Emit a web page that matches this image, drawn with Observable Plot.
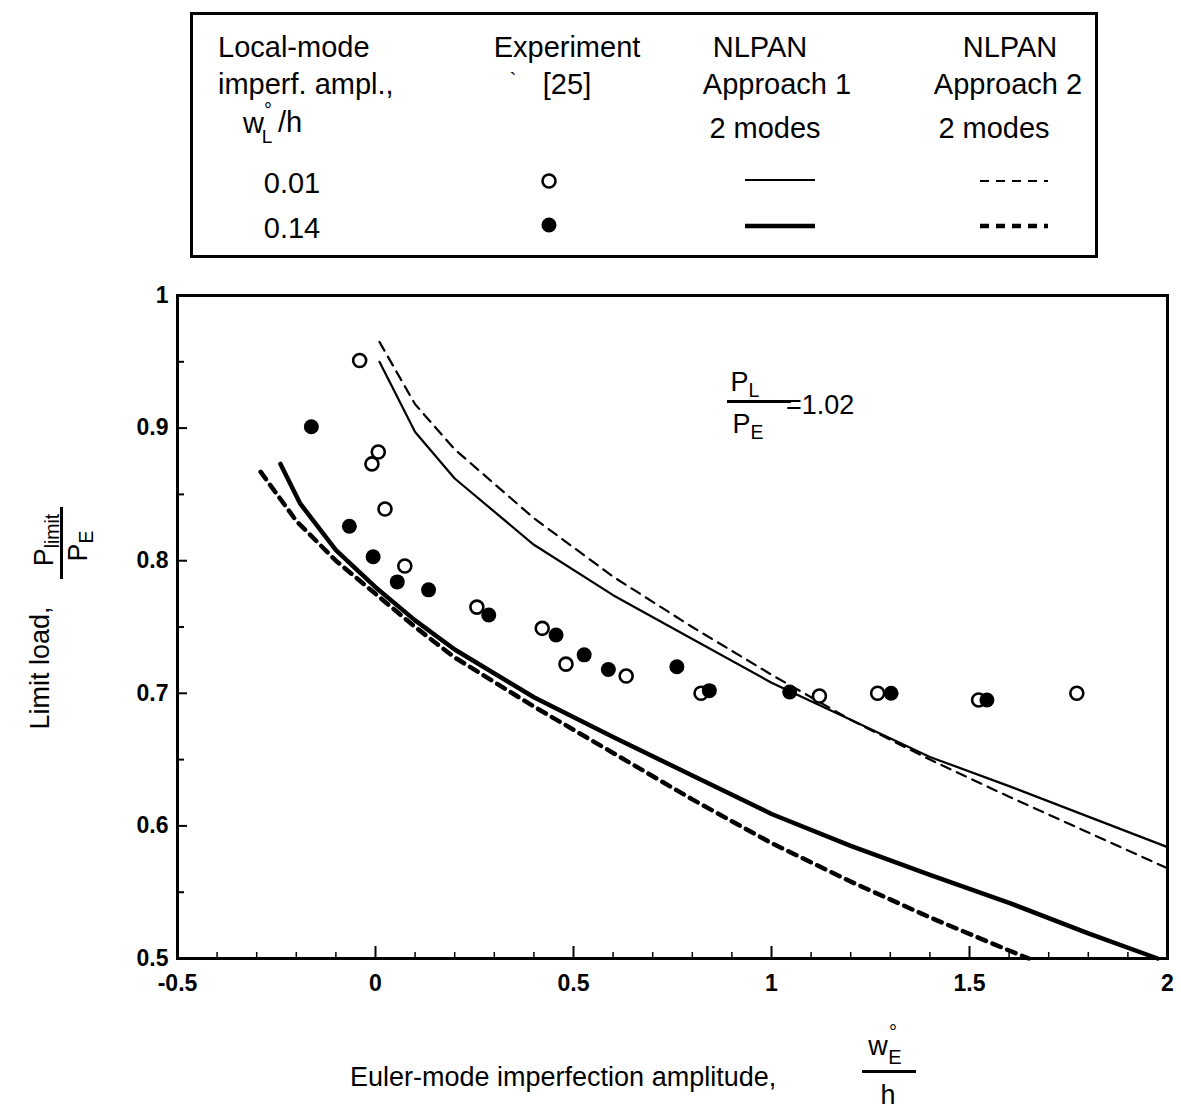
<!DOCTYPE html>
<html><head><meta charset="utf-8">
<script src="https://cdn.jsdelivr.net/npm/d3@7"></script>
<script src="https://cdn.jsdelivr.net/npm/@observablehq/plot@0.6"></script>
<style>
body{margin:0;background:#fff;font-family:"Liberation Sans",Arial,Helvetica,sans-serif;color:#000}
#wrap{position:relative;width:1181px;height:1112px;overflow:hidden;background:#fff}
#legend{position:absolute;left:0;top:0;width:1181px;height:260px}
#chart{position:absolute;left:0;top:260px}
.t{position:absolute;white-space:nowrap;line-height:1;font-size:29px}
.c{transform:translate(-50%,-50%)}
.l{transform:translate(0,-50%)}
.r90{transform:translate(-50%,-50%) rotate(-90deg)}
.sub{font-size:0.72em;position:relative;top:0.3em}
.bar{position:absolute;background:#000}
#box{position:absolute;left:190px;top:12px;width:908px;height:246px;border:3px solid #000;box-sizing:border-box}
</style></head><body>
<div id="wrap">
  <div id="legend">
    <div id="box"></div>
    <svg width="1181" height="260" style="position:absolute;left:0;top:0">
      <circle cx="549" cy="181" r="6.5" fill="#fff" stroke="#000" stroke-width="2.6"/>
      <circle cx="549" cy="225" r="7.5" fill="#000"/>
      <line x1="745" x2="815" y1="180" y2="180" stroke="#000" stroke-width="2.2"/>
      <line x1="745" x2="815" y1="226" y2="226" stroke="#000" stroke-width="4.5"/>
      <line x1="980" x2="1048" y1="181" y2="181" stroke="#000" stroke-width="2.2" stroke-dasharray="9,7"/>
      <line x1="980" x2="1048" y1="226" y2="226" stroke="#000" stroke-width="4.5" stroke-dasharray="9,7"/>
    </svg>
    <div class="t l" style="left:218px;top:47px">Local-mode</div>
    <div class="t l" style="left:218px;top:84px">imperf. ampl.,</div>
    <div class="t l" style="left:243px;top:123px">w</div>
    <div class="t c" style="left:268px;top:110px;font-size:20px;line-height:0.6">°</div>
    <div class="t c" style="left:267px;top:137px;font-size:19px;line-height:0.8">L</div>
    <div class="t l" style="left:278px;top:122px">/h</div>
    <div class="t c" style="left:292px;top:183px">0.01</div>
    <div class="t c" style="left:292px;top:228px">0.14</div>
    <div class="t c" style="left:567px;top:47px">Experiment</div>
    <div class="t c" style="left:513px;top:80px;font-size:20px">`</div>
    <div class="t c" style="left:567px;top:84px">[25]</div>
    <div class="t c" style="left:760px;top:47px">NLPAN</div>
    <div class="t c" style="left:777px;top:84px">Approach 1</div>
    <div class="t c" style="left:765px;top:128px">2 modes</div>
    <div class="t c" style="left:1010px;top:47px">NLPAN</div>
    <div class="t c" style="left:1008px;top:84px">Approach 2</div>
    <div class="t c" style="left:994px;top:128px">2 modes</div>
  </div>
  <div id="chart"></div>
  <!-- y axis label -->
  <div class="t r90" style="left:40px;top:668px;font-size:27px">Limit load,</div>
  <div class="t r90" style="left:44px;top:540px;font-size:27px">P<span class="sub">limit</span></div>
  <div class="bar" style="left:60px;top:507px;width:3px;height:72px"></div>
  <div class="t r90" style="left:78px;top:546px;font-size:27px">P<span class="sub">E</span></div>
  <!-- x axis label -->
  <div class="t l" style="left:350px;top:1077px;font-size:27px">Euler-mode imperfection amplitude,</div>
  <div class="t c" style="left:878px;top:1046px;font-size:27px">w</div>
  <div class="t c" style="left:893px;top:1032px;font-size:20px;line-height:0.6">°</div>
  <div class="t c" style="left:895px;top:1057px;font-size:20px;line-height:0.8">E</div>
  <div class="bar" style="left:862px;top:1070px;width:54px;height:3px"></div>
  <div class="t c" style="left:888px;top:1095px;font-size:27px">h</div>
  <!-- annotation -->
  <div class="t c" style="left:745px;top:382px;font-size:27px">P<span class="sub">L</span></div>
  <div class="bar" style="left:727px;top:400px;width:64px;height:3px"></div>
  <div class="t c" style="left:748px;top:424px;font-size:27px">P<span class="sub">E</span></div>
  <div class="t l" style="left:786px;top:405px;font-size:27px">=1.02</div>
</div>
<script>
// Experiment [25], local imperfection w_L/h = 0.01 (open circles)
const exp001X = [-0.040, 0.007, -0.009, 0.024, 0.074, 0.256, 0.421, 0.481, 0.633, 0.822, 1.121, 1.268, 1.523, 1.771];
const exp001Y = [0.951, 0.882, 0.873, 0.839, 0.796, 0.765, 0.749, 0.722, 0.713, 0.700, 0.698, 0.700, 0.695, 0.700];
// Experiment [25], w_L/h = 0.14 (filled circles)
const exp014X = [-0.162, -0.066, -0.006, 0.055, 0.134, 0.286, 0.456, 0.527, 0.588, 0.761, 0.843, 1.046, 1.302, 1.544];
const exp014Y = [0.901, 0.826, 0.803, 0.784, 0.778, 0.759, 0.744, 0.729, 0.718, 0.720, 0.702, 0.701, 0.700, 0.695];
// NLPAN Approach 1, w_L/h = 0.01 (thin solid)
const a1thinX = [0.01, 0.1, 0.2, 0.4, 0.6, 0.8, 1.0, 1.2, 1.4, 1.6, 1.8, 2.0];
const a1thinY = [0.950, 0.897, 0.862, 0.812, 0.774, 0.741, 0.708, 0.680, 0.652, 0.630, 0.607, 0.584];
// NLPAN Approach 2, w_L/h = 0.01 (thin dashed)
const a2thinX = [0.01, 0.1, 0.2, 0.4, 0.6, 0.8, 1.0, 1.2, 1.4, 1.6, 1.8, 2.0];
const a2thinY = [0.965, 0.918, 0.884, 0.832, 0.788, 0.750, 0.714, 0.680, 0.650, 0.622, 0.595, 0.568];
// NLPAN Approach 1, w_L/h = 0.14 (thick solid)
const a1thickX = [-0.24, -0.19, -0.1, 0.0, 0.1, 0.2, 0.4, 0.6, 0.8, 1.0, 1.2, 1.4, 1.6, 1.8, 1.975];
const a1thickY = [0.873, 0.843, 0.808, 0.780, 0.755, 0.733, 0.697, 0.667, 0.638, 0.609, 0.585, 0.563, 0.542, 0.519, 0.500];
// NLPAN Approach 2, w_L/h = 0.14 (thick dashed)
const a2thickX = [-0.29, -0.2, -0.1, 0.0, 0.1, 0.2, 0.4, 0.6, 0.8, 1.0, 1.2, 1.4, 1.6, 1.65];
const a2thickY = [0.867, 0.830, 0.800, 0.775, 0.750, 0.727, 0.690, 0.655, 0.620, 0.587, 0.558, 0.531, 0.506, 0.500];
// axes
const xTicks = [-0.5, 0, 0.5, 1, 1.5, 2];
const yTicks = [0.5, 0.6, 0.7, 0.8, 0.9, 1];
const xMinor = d3.range(-4, 20).map(i => i / 10).filter(v => Math.abs(v * 2 - Math.round(v * 2)) > 1e-9);
const yMinor = [0.55, 0.65, 0.75, 0.85, 0.95];

const pts = (xs, ys) => xs.map((x, i) => ({x, y: ys[i]}));

const W = 1181, H = 852, mL = 177, mR = 14, mT = 35, mB = 154;
const plotW = W - mL - mR, plotH = H - mT - mB;

const chart = Plot.plot({
  width: W, height: H,
  marginLeft: mL, marginRight: mR, marginTop: mT, marginBottom: mB,
  x: {domain: [-0.5, 2]},
  y: {domain: [0.5, 1]},
  style: {fontFamily: "'Liberation Sans', Arial, sans-serif", fontSize: "23px", fontWeight: "bold", background: "white", color: "black", overflow: "visible"},
  marks: [
    Plot.line(pts(a1thinX, a1thinY), {x: "x", y: "y", stroke: "black", strokeWidth: 2.2}),
    Plot.line(pts(a2thinX, a2thinY), {x: "x", y: "y", stroke: "black", strokeWidth: 2.2, strokeDasharray: "10,7"}),
    Plot.line(pts(a1thickX, a1thickY), {x: "x", y: "y", stroke: "black", strokeWidth: 4.5}),
    Plot.line(pts(a2thickX, a2thickY), {x: "x", y: "y", stroke: "black", strokeWidth: 4.5, strokeDasharray: "9,7"}),
    Plot.dot(pts(exp001X, exp001Y), {x: "x", y: "y", r: 6.5, stroke: "black", fill: "white", strokeWidth: 2.6}),
    Plot.dot(pts(exp014X, exp014Y), {x: "x", y: "y", r: 7.5, fill: "black", stroke: "none"}),
    Plot.frame({stroke: "black", strokeWidth: 3}),
    Plot.tickX(xMinor, {x: d => d, insetTop: plotH - 6, stroke: "black", strokeWidth: 1.5}),
    Plot.tickX(xTicks, {x: d => d, insetTop: plotH - 12, stroke: "black", strokeWidth: 2}),
    Plot.tickY(yMinor, {y: d => d, insetRight: plotW - 7, stroke: "black", strokeWidth: 2}),
    Plot.tickY(yTicks, {y: d => d, insetRight: plotW - 10, stroke: "black", strokeWidth: 2}),
    Plot.axisX({ticks: xTicks, tickSize: 0, tickPadding: 16, tickFormat: d => String(d), label: null}),
    Plot.axisY({ticks: yTicks, tickSize: 0, tickPadding: 9, tickFormat: d => String(+d.toFixed(1)), label: null})
  ]
});
document.getElementById("chart").appendChild(chart);
</script>
</body></html>
